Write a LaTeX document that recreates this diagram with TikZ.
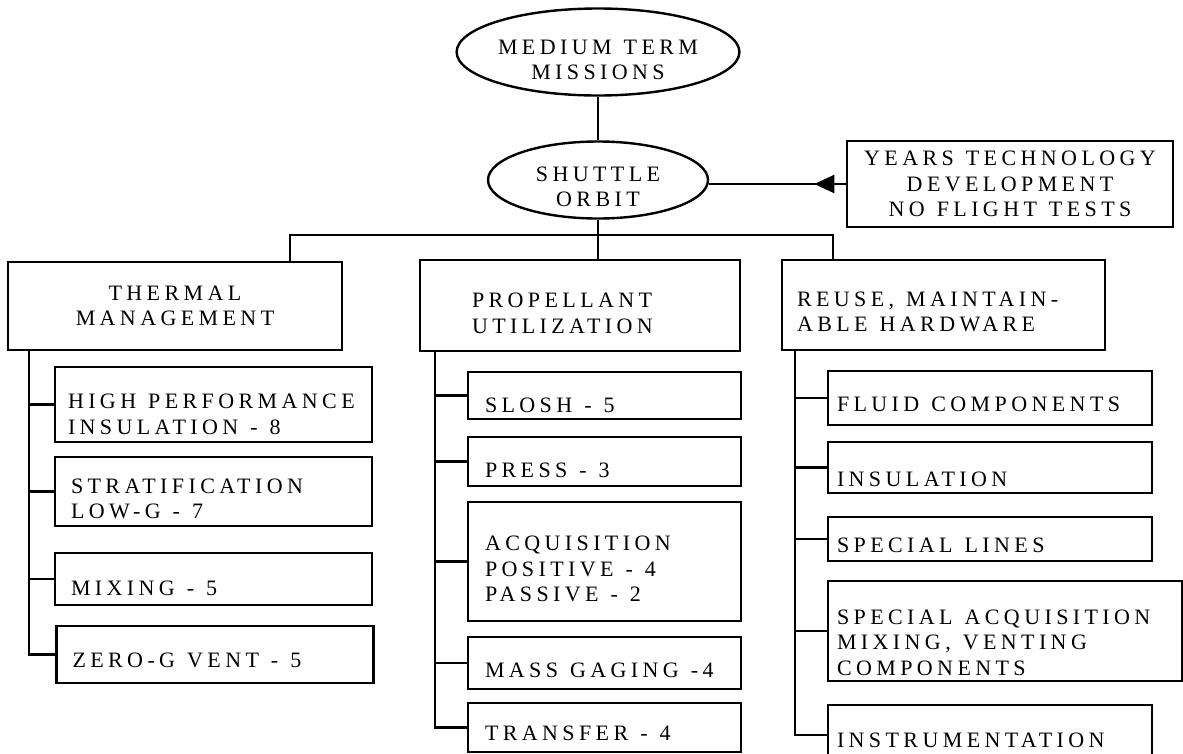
\documentclass[tikz,border=0pt]{standalone}
\usepackage{fontspec}
\newfontfamily\typefont{Liberation Serif}[LetterSpace=20]
\newcommand\chartfont{\typefont\fontsize{22}{25.5}\selectfont
  \spaceskip=12pt\relax}
\usetikzlibrary{shapes.geometric,arrows.meta,decorations.markings}

\begin{document}
\begin{tikzpicture}[x=1pt,y=-1pt,line width=2.4pt,font=\chartfont]
\tikzset{
  oval/.style={draw,ellipse,inner sep=0pt,align=center},
  head/.style={draw,rectangle,inner ysep=0pt,align=flush left},
  sink/.style={execute at begin node={\rule{0pt}{#1}}},
  leftitem/.style={head,inner xsep=16pt,text width=285pt},
  miditem/.style={head,inner xsep=17pt,text width=239pt},
  rightitem/.style={head,inner xsep=9pt,text width=306pt},
  feed/.style={postaction={decorate},decoration={markings,
    mark=at position 0.23 with {\arrow{Triangle[length=20pt,width=18pt]}}}}
}
\useasboundingbox (0,0) rectangle (1183,753);

% top of the tree
\node[oval,minimum width=238pt,minimum height=87pt] (mid) at (598,52)
  {\rule{0pt}{30pt}MEDIUM TERM\\MISSIONS};
\node[oval,minimum width=220pt,minimum height=77pt] (orbit) at (598,180)
  {\rule{0pt}{28pt}SHUTTLE\\ORBIT};
\node[head,align=center,minimum width=326pt,minimum height=86pt] (years)
  at (1010,184) {YEARS TECHNOLOGY\\DEVELOPMENT\\NO FLIGHT TESTS};

% second level
\node[head,align=center,minimum width=334pt,minimum height=88pt] (therm)
  at (175,306) {THERMAL\\MANAGEMENT};
\node[head,sink=30pt,inner xsep=52pt,text width=216pt,minimum height=91pt]
  (prop) at (580,305.5) {PROPELLANT\\UTILIZATION};
\node[head,sink=28pt,inner xsep=15pt,text width=293pt,minimum height=90pt]
  (reuse) at (943.5,305) {REUSE, MAINTAIN-\\ABLE HARDWARE};

% thermal management items
\node[leftitem,sink=34pt,inner xsep=13pt,text width=291pt,minimum height=75pt]
  (hpi) at (213.5,404.5) {HIGH PERFORMANCE\\INSULATION - 8};
\node[leftitem,sink=29pt,minimum height=69pt] (strat) at (213.5,491.5)
  {STRATIFICATION\\LOW-G - 7};
\node[leftitem,sink=34pt,minimum height=52pt] (mix) at (213.5,579)
  {MIXING - 5};
\node[leftitem,sink=27pt,minimum height=57pt] (zerog) at (215,654.5)
  {ZERO-G VENT - 5};

% propellant utilization items
\node[miditem,sink=34pt,minimum height=47pt] (slosh) at (604.5,395.5)
  {SLOSH - 5};
\node[miditem,sink=33pt,minimum height=49pt] (press) at (604.5,461.5)
  {PRESS - 3};
\node[miditem,sink=30pt,minimum height=119pt] (acq) at (604.5,561.5)
  {ACQUISITION\\POSITIVE - 4\\PASSIVE - 2};
\node[miditem,sink=30pt,minimum height=52pt] (mass) at (604.5,663)
  {MASS GAGING -4};
\node[miditem,sink=27pt,minimum height=49pt] (transfer) at (604.5,727.5)
  {TRANSFER - 4};

% hardware items
\node[rightitem,sink=28pt,minimum height=54pt] (fluid) at (990,398)
  {FLUID COMPONENTS};
\node[rightitem,sink=38pt,minimum height=51pt] (insul) at (990,467.5)
  {INSULATION};
\node[rightitem,sink=28pt,minimum height=44pt] (lines) at (990,539)
  {SPECIAL LINES};
\node[rightitem,sink=38pt,text width=336pt,minimum height=100pt] (specacq)
  at (1005,631) {SPECIAL ACQUISITION\\MIXING, VENTING\\COMPONENTS};
\node[rightitem,sink=26pt,minimum height=60pt] (instr) at (990,735)
  {INSTRUMENTATION};

% connectors
\coordinate (busL) at (290,235);
\coordinate (busR) at (833,235);
\coordinate (spineL) at (29,350);
\coordinate (spineM) at (435,351);
\coordinate (spineR) at (795,350);

\draw (mid) -- (orbit);
\draw[feed] (years.west) -- (years.west -| orbit.east);
\draw (orbit) -- (orbit.south |- prop.north);
\draw (busL |- therm.north) -- (busL) -- (busR) -- (busR |- reuse.north);

\draw (spineL) |- (zerog.west);
\foreach \n in {hpi,strat,mix}
  \draw (spineL |- \n.west) -- (\n.west);
\draw (spineM) |- (transfer.west);
\foreach \n in {slosh,press,acq,mass}
  \draw (spineM |- \n.west) -- (\n.west);
\draw (spineR) |- (instr.west);
\foreach \n in {fluid,insul,lines,specacq}
  \draw (spineR |- \n.west) -- (\n.west);
\end{tikzpicture}
\end{document}
